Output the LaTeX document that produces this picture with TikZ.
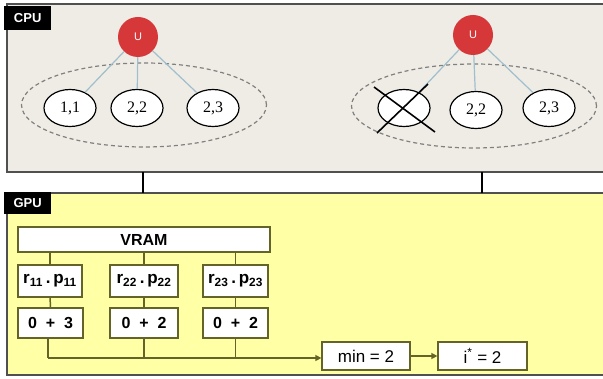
\documentclass[tikz,border=0pt]{standalone}
\usepackage{fontspec}
\setmainfont{Liberation Sans}
\newfontfamily\serifch{Liberation Serif}
\usetikzlibrary{arrows.meta,shapes.geometric}
\definecolor{cpufill}{RGB}{238,236,228}
\definecolor{gpufill}{RGB}{255,255,165}
\definecolor{panelline}{RGB}{80,80,80}
\definecolor{ured}{RGB}{214,56,58}
\definecolor{treeline}{RGB}{160,190,205}
\definecolor{olive}{RGB}{100,100,40}
\tikzset{
  panel/.style={draw=panelline,line width=1.6pt},
  tag/.style={fill=black,text=white,font=\bfseries\fontsize{13}{13}\selectfont,inner sep=0pt,minimum width=47pt,minimum height=24pt},
  unode/.style={circle,fill=ured,text=white,font=\fontsize{11}{11}\selectfont,minimum size=40pt,inner sep=0pt},
  child/.style={ellipse,draw=black,line width=1.2pt,fill=white,minimum width=52pt,minimum height=37pt,inner sep=0pt,font=\serifch\fontsize{16}{16}\selectfont},
  group/.style={ellipse,draw=gray,dashed,line width=1.2pt,dash pattern=on 4pt off 3pt,minimum width=245pt,minimum height=84pt},
  tline/.style={draw=treeline,line width=1.2pt},
  gbox/.style={draw=olive,line width=1.3pt,fill=white,inner sep=0pt,font=\bfseries\fontsize{15}{15}\selectfont},
  gline/.style={draw=olive,line width=1.5pt},
  cross/.style={draw=black,line width=1.6pt},
  link/.style={draw=black,line width=1.8pt}
}
\begin{document}
\begin{tikzpicture}[x=1pt,y=-1pt]
\useasboundingbox (0,0) rectangle (603,379);
\clip (0,0) rectangle (603,379);
% panels
\draw[panel,fill=cpufill] (7,4) rectangle (615,172);
\draw[panel,fill=gpufill] (7,193) rectangle (615,375);
\node[tag,anchor=north west] (cpu) at (4,6) {CPU};
\node[tag,anchor=north west,minimum height=22pt] (gpu) at (4,192) {GPU};
% left tree
\node[group] (g1) at (144,105) {};
\node[unode] (u1) at (138,37) {U};
\node[child] (a11) at (70,108) {1,1};
\node[child] (a22) at (137,108) {2,2};
\node[child] (a23) at (213,108) {2,3};
\draw[tline] (u1) -- (a11);
\draw[tline] (u1) -- (a22);
\draw[tline] (u1) -- (a23);
% right tree
\node[group] (g2) at (474,106) {};
\node[unode] (u2) at (473,35) {U};
\node[child] (b11) at (404,108) {};
\node[child] (b22) at (476,110) {2,2};
\node[child] (b23) at (549,108) {2,3};
\draw[tline] (u2) -- (b11);
\draw[tline] (u2) -- (b22);
\draw[tline] (u2) -- (b23);
\coordinate (x1) at (374,87);
\coordinate (x2) at (435,132);
\coordinate (x3) at (428,84);
\coordinate (x4) at (377,133);
\draw[cross] (x1) -- (x2);
\draw[cross] (x3) -- (x4);
% CPU-GPU links
\coordinate (c1) at (143,172);
\coordinate (c2) at (143,193);
\coordinate (c3) at (482,172);
\coordinate (c4) at (482,193);
\draw[link] (c1) -- (c2);
\draw[link] (c3) -- (c4);
% GPU content
\node[gbox,minimum width=252pt,minimum height=25pt,font=\bfseries\fontsize{16}{16}\selectfont] (vram) at (144,239.5) {VRAM};
\node[gbox,minimum width=64pt,minimum height=32pt,font=\bfseries\fontsize{17}{17}\selectfont] (p1) at (50,281) {r\textsubscript{11}\,.\,p\textsubscript{11}};
\node[gbox,minimum width=68pt,minimum height=32pt,font=\bfseries\fontsize{17}{17}\selectfont] (p2) at (144,281) {r\textsubscript{22}\,.\,p\textsubscript{22}};
\node[gbox,minimum width=65pt,minimum height=32pt,font=\bfseries\fontsize{17}{17}\selectfont] (p3) at (235.5,281) {r\textsubscript{23}\,.\,p\textsubscript{23}};
\node[gbox,minimum width=65pt,minimum height=30pt,font=\bfseries\fontsize{16}{16}\selectfont] (s1) at (50.5,323) {0 \ + \ 3};
\node[gbox,minimum width=68pt,minimum height=30pt,font=\bfseries\fontsize{16}{16}\selectfont] (s2) at (144,323) {0 \ + \ 2};
\node[gbox,minimum width=65pt,minimum height=30pt,font=\bfseries\fontsize{16}{16}\selectfont] (s3) at (235.5,323) {0 \ + \ 2};
\node[gbox,minimum width=88pt,minimum height=28pt,font=\fontsize{17}{17}\selectfont] (mn) at (366,356) {min = 2};
\node[gbox,minimum width=89pt,minimum height=28pt,font=\fontsize{17}{17}\selectfont] (is) at (482.5,356) {i\textsuperscript{*} = 2};
\draw[gline] (vram.south -| p1) -- (p1.north);
\draw[gline] (vram.south -| p2) -- (p2.north);
\draw[gline] (vram.south -| p3) -- (p3.north);
\draw[gline] (p1) -- (s1);
\draw[gline] (p2) -- (s2);
\draw[gline] (p3) -- (s3);
\coordinate (bus) at (48,358);
\draw[gline] (s1.south -| bus) -- (bus);
\draw[gline,-{Triangle[length=6pt,width=6pt]}] (bus) -- (mn.west |- bus);
\draw[gline] (s2.south) -- (s2.south |- bus);
\draw[gline] (s3.south) -- (s3.south |- bus);
\draw[gline,-{Triangle[length=6pt,width=6pt]}] (mn) -- (is);
\end{tikzpicture}
\end{document}
